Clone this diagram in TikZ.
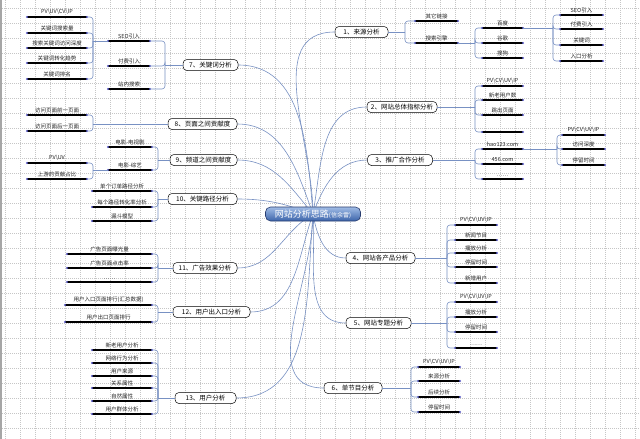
\documentclass[tikz,border=0pt]{standalone}
\usepackage{fontspec}
\setmainfont{Noto Sans CJK SC}
\usetikzlibrary{backgrounds}
\definecolor{linkc}{RGB}{120,145,195}
\definecolor{mkc}{RGB}{90,90,200}
\definecolor{hubtop}{RGB}{160,188,230}
\definecolor{hubbot}{RGB}{60,100,170}
\definecolor{hubdraw}{RGB}{40,60,110}
\newcommand\bsl{\textbackslash}
\newcommand\lf[5]{\node[barnode,minimum width=#3-#2,label={[leaftext]above:{#5}}] (#1) at ({(#2+#3)/2},#4) {};
  \fill[mk] (#1.west) circle (1.1); \fill[mk] (#1.east) circle (1.1);}
\newcommand\brR[3]{\coordinate (#1k) at (#2,0);
  \draw[link] (#1.east) -- (#1.east -| #1k);
  \foreach \ch in {#3}{\draw[link,rounded corners=3] (#1.east -| #1k) |- (\ch.west);}}
\newcommand\brL[3]{\coordinate (#1k) at (#2,0);
  \draw[link] (#1.west) -- (#1.west -| #1k);
  \foreach \ch in {#3}{\draw[link,rounded corners=3] (#1.west -| #1k) |- (\ch.east);}}
\tikzset{
  gridl/.style={gray!45,line width=0.4pt,dash pattern=on 1pt off 1pt},
  link/.style={draw=linkc,line width=0.6pt},
  mk/.style={fill=mkc},
  barnode/.style={fill=black,minimum height=2.6,inner sep=0,outer sep=0},
  leaftext/.style={font=\fontsize{5.5}{6}\selectfont,inner sep=0.6pt,text=black!85},
  mnode/.style={draw=black,line width=0.5pt,fill=white,rounded corners=4,font=\fontsize{6.5}{7}\selectfont,minimum height=11,inner sep=0},
  hubnode/.style={draw=hubdraw,line width=0.6pt,rounded corners=5,top color=hubtop,bottom color=hubbot,text=white,font=\fontsize{9}{10}\selectfont,minimum width=95,minimum height=14,inner sep=1}
}
\begin{document}
\begin{tikzpicture}[x=1pt,y=-1pt]
\useasboundingbox (0,0) rectangle (640,439);
% hub
\node[hubnode] (hub) at (313,214) {网站分析思路{\fontsize{6}{7}\selectfont(信余雷)}};
% main nodes
\node[mnode,minimum width=53] (n1) at (361.5,32) {1、来源分析};
\node[mnode,minimum width=70] (n2) at (402,107) {2、网站总体指标分析};
\node[mnode,minimum width=65] (n3) at (400,160) {3、推广合作分析};
\node[mnode,minimum width=69] (n4) at (380.5,258) {4、网站各产品分析};
\node[mnode,minimum width=65] (n5) at (378.5,323) {5、网站专题分析};
\node[mnode,minimum width=58] (n6) at (353,388) {6、单节目分析};
\node[mnode,minimum width=55] (n7) at (210.5,65) {7、关键词分析};
\node[mnode,minimum width=69] (n8) at (202.5,124) {8、页面之间贡献度};
\node[mnode,minimum width=67] (n9) at (203.5,160) {9、频道之间贡献度};
\node[mnode,minimum width=69] (n10) at (202.5,199) {10、关键路径分析};
\node[mnode,minimum width=64] (n11) at (205,268) {11、广告效果分析};
\node[mnode,minimum width=77] (n12) at (211.5,312) {12、用户出入口分析};
\node[mnode,minimum width=61] (n13) at (205.5,398) {13、用户分析};
% branch 1
\lf{a1}{415}{458}{21}{其它链接}
\lf{a2}{415}{458}{43}{搜索引擎}
\brR{n1}{405}{a1,a2}
\lf{a21}{482}{523}{28}{百度}
\lf{a22}{482}{523}{43}{谷歌}
\lf{a23}{482}{523}{58}{搜狗}
\brR{a2}{475}{a21,a22,a23}
\lf{a211}{560}{603}{15}{SEO引入}
\lf{a212}{560}{603}{29}{付费引入}
\lf{a213}{560}{603}{45}{关键词}
\lf{a214}{560}{603}{61}{入口分析}
\brR{a21}{553}{a211,a212,a213,a214}
% branch 2
\lf{b1}{482}{523}{86}{PV\bsl CV\bsl UV\bsl IP}
\lf{b2}{482}{523}{100}{新老用户数}
\lf{b3}{482}{523}{115}{跳出页面}
\lf{b4}{482}{523}{132}{}
\brR{n2}{475}{b1,b2,b3,b4}
% branch 3
\lf{c1}{482}{523}{149}{hao123.com}
\lf{c2}{482}{523}{164}{456.com}
\lf{c3}{482}{523}{179}{……}
\brR{n3}{475}{c1,c2,c3}
\lf{c11}{562}{605}{135}{PV\bsl CV\bsl UV\bsl IP}
\lf{c12}{562}{605}{149}{访问深度}
\lf{c13}{562}{605}{165}{停留时间}
\brR{c1}{557}{c11,c12,c13}
% branch 4
\lf{d1}{455}{497}{225}{PV\bsl CV\bsl UV\bsl IP}
\lf{d2}{455}{497}{240}{新闻节目}
\lf{d3}{455}{497}{253}{播放分析}
\lf{d4}{455}{497}{267}{停留时间}
\lf{d5}{455}{497}{283}{新增用户}
\brR{n4}{447}{d1,d2,d3,d4,d5}
% branch 5
\lf{e1}{455}{497}{302}{PV\bsl CV\bsl UV\bsl IP}
\lf{e2}{455}{497}{317}{播放分析}
\lf{e3}{455}{497}{332}{停留时间}
\lf{e4}{455}{497}{348}{……}
\brR{n5}{447}{e1,e2,e3,e4}
% branch 6
\lf{f1}{418}{460}{367}{PV\bsl CV\bsl UV\bsl IP}
\lf{f2}{418}{460}{381}{来源分析}
\lf{f3}{418}{460}{397}{后续分析}
\lf{f4}{418}{460}{412}{停留时间}
\brR{n6}{411}{f1,f2,f3,f4}
% branch 7
\lf{g1}{108}{150}{41}{SEO引入}
\lf{g2}{108}{150}{66}{付费引入}
\lf{g3}{108}{150}{89}{站内搜索}
\brL{n7}{165}{g1,g2,g3}
\lf{g11}{27}{87}{17}{PV\bsl UV\bsl CV\bsl IP}
\lf{g12}{27}{87}{33}{关键词搜索量}
\lf{g13}{27}{87}{48}{搜索关键词访问深度}
\lf{g14}{27}{87}{63}{关键词转化趋势}
\lf{g15}{27}{87}{79}{关键词排名}
\brL{g1}{93}{g11,g12,g13,g14,g15}
% branch 8
\lf{h1}{27}{87}{115}{访问页面前一页面}
\lf{h2}{27}{87}{131}{访问页面后一页面}
\brL{n8}{93}{h1,h2}
% branch 9
\lf{i1}{108}{152}{147}{电影-电视剧}
\lf{i2}{108}{152}{170}{电影-综艺}
\brL{n9}{158}{i1,i2}
\lf{i21}{27}{87}{163}{PV\bsl UV}
\lf{i22}{27}{87}{179}{上游的贡献占比}
\brL{i2}{93}{i21,i22}
% branch 10
\lf{j1}{92}{152}{191}{单个订单路径分析}
\lf{j2}{92}{152}{207}{每个路径转化率分析}
\lf{j3}{92}{152}{221}{漏斗模型}
\brL{n10}{158}{j1,j2,j3}
% branch 11
\lf{k1}{67}{152}{254}{广告页面曝光量}
\lf{k2}{67}{152}{268}{广告页面点击率}
\lf{k3}{67}{152}{282}{……}
\brL{n11}{158}{k1,k2,k3}
% branch 12
\lf{l1}{65}{152}{305}{用户入口页面排行(汇总数据)}
\lf{l2}{65}{152}{322}{用户出口页面排行}
\brL{n12}{158}{l1,l2}
% branch 13
\lf{m1}{92}{152}{350}{新老用户分析}
\lf{m2}{92}{152}{363}{网络行为分析}
\lf{m3}{92}{152}{376}{用户来源}
\lf{m4}{92}{152}{388}{关系属性}
\lf{m5}{92}{152}{401}{自然属性}
\lf{m6}{92}{152}{414}{用户群体分析}
\brL{n13}{158}{m1,m2,m3,m4,m5,m6}
% background
\begin{pgfonlayer}{background}
\fill[white] (0,0) rectangle (640,439);
\foreach \gx in {5,20,...,635} {\draw[gridl] (\gx,0) -- (\gx,439);}
\foreach \gy in {8,23,...,438} {\draw[gridl] (0,\gy) -- (640,\gy);}
\draw[gray!70,line width=1.5pt] (0.75,0) -- (0.75,439);
\draw[link] (hub.center) to[out=90,in=180] (n1.west);
\draw[link] (hub.center) to[out=80,in=180] (n2.west);
\draw[link] (hub.center) to[out=70,in=180] (n3.west);
\draw[link] (hub.center) to[out=-80,in=180] (n4.west);
\draw[link] (hub.center) to[out=-85,in=180] (n5.west);
\draw[link] (hub.center) to[out=-90,in=180] (n6.west);
\draw[link] (hub.center) to[out=95,in=0] (n7.east);
\draw[link] (hub.center) to[out=110,in=0] (n8.east);
\draw[link] (hub.center) to[out=130,in=0] (n9.east);
\draw[link] (hub.center) to[out=160,in=0] (n10.east);
\draw[link] (hub.center) to[out=-150,in=0] (n11.east);
\draw[link] (hub.center) to[out=-110,in=0] (n12.east);
\draw[link] (hub.center) to[out=-95,in=0] (n13.east);
\end{pgfonlayer}
\end{tikzpicture}
\end{document}
